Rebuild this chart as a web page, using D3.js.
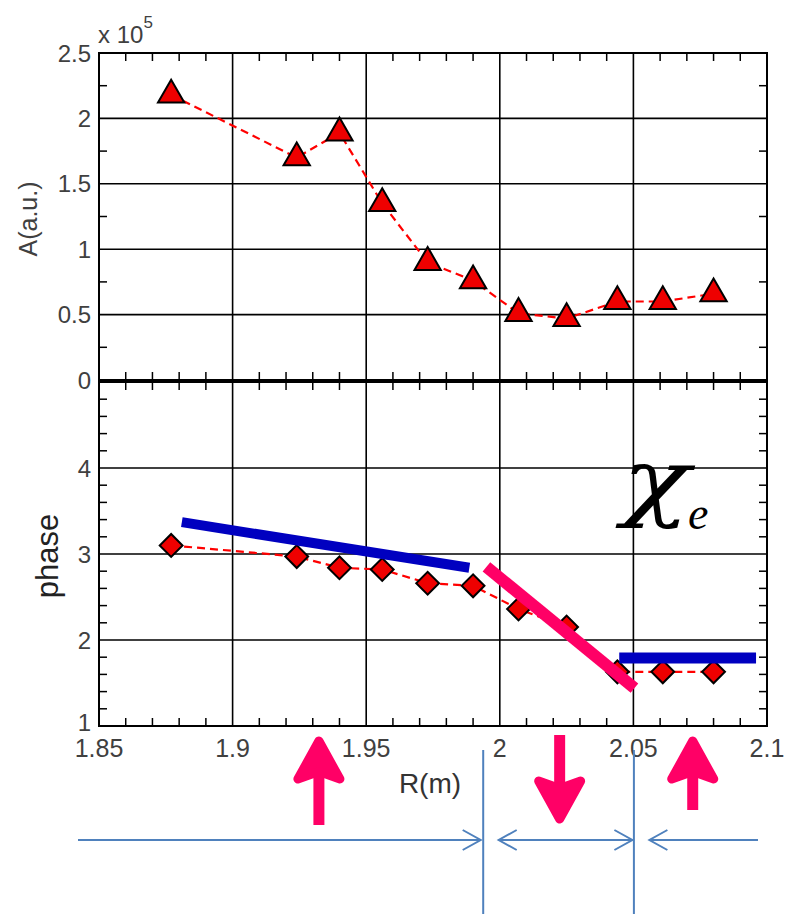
<!DOCTYPE html>
<html><head><meta charset="utf-8">
<script src="https://cdn.jsdelivr.net/npm/d3@7"></script>
<style>body{margin:0;background:#fff}svg{display:block}</style>
</head><body>
<svg id="c" width="786" height="914"></svg>
<script>
// ---- data ----
const R = [1.877, 1.924, 1.940, 1.956, 1.973, 1.990, 2.007, 2.025, 2.044, 2.061, 2.080];
const A = [2.18, 1.70, 1.89, 1.35, 0.90, 0.76, 0.51, 0.47, 0.60, 0.60, 0.66]; // x 1e5
const phase = [3.10, 2.97, 2.84, 2.82, 2.66, 2.63, 2.36, 2.15, 1.63, 1.63, 1.63];
const xTicks = [1.85, 1.9, 1.95, 2.0, 2.05, 2.1];
const xTickLabels = ["1.85", "1.9", "1.95", "2", "2.05", "2.1"];
const aTicks = [0, 0.5, 1, 1.5, 2, 2.5];
const aTickLabels = ["0", "0.5", "1", "1.5", "2", "2.5"];
const pTicks = [1, 2, 3, 4];
const pTickLabels = ["1", "2", "3", "4"];
// fitted trend segments [x1,y1,x2,y2]
const fitBlue1 = [1.881, 3.37, 1.9886, 2.84];
const fitPink = [1.995, 2.85, 2.0504, 1.44];
const fitBlue2 = [2.0447, 1.79, 2.0959, 1.79];
// annotation arrows (R positions)
const upArrows = [1.9323, 2.0722];
const downArrows = [2.0224];
const regionBounds = [1.9936, 2.0500];

const svg = d3.select("#c");
const x = d3.scaleLinear().domain([1.85, 2.1]).range([99, 767]);
const yA = d3.scaleLinear().domain([0, 2.5]).range([380, 53]);
const yP = d3.scaleLinear().domain([1, 5]).range([726, 382]);
const font = "Liberation Sans, Arial, sans-serif";
const txt = "#404040";

function panel(y, yTicks, yLabels, yMinor, labelSize, lowNudge) {
  const g = svg.append("g");
  const [y0, y1] = y.range();
  xTicks.slice(1, -1).forEach(t => g.append("line").attr("x1", x(t)).attr("x2", x(t)).attr("y1", y0).attr("y2", y1).attr("stroke", "#000").attr("stroke-width", 1.6));
  yTicks.forEach(t => { if (y(t) < y0 - 1 && y(t) > y1 + 1) g.append("line").attr("x1", 99).attr("x2", 767).attr("y1", y(t)).attr("y2", y(t)).attr("stroke", "#000").attr("stroke-width", 1.6); });
  const xm = d3.range(1.86, 2.1, 0.01).filter(v => Math.abs(v * 20 - Math.round(v * 20)) > 1e-6);
  xm.forEach(t => {
    g.append("line").attr("x1", x(t)).attr("x2", x(t)).attr("y1", y1).attr("y2", y1 + 8).attr("stroke", "#000").attr("stroke-width", 1.5);
    g.append("line").attr("x1", x(t)).attr("x2", x(t)).attr("y1", y0).attr("y2", y0 - 8).attr("stroke", "#000").attr("stroke-width", 1.5);
  });
  yMinor.forEach(t => {
    g.append("line").attr("x1", 99).attr("x2", 107).attr("y1", y(t)).attr("y2", y(t)).attr("stroke", "#000").attr("stroke-width", 1.5);
    g.append("line").attr("x1", 767).attr("x2", 759).attr("y1", y(t)).attr("y2", y(t)).attr("stroke", "#000").attr("stroke-width", 1.5);
  });
  g.append("rect").attr("x", 99).attr("y", y1).attr("width", 668).attr("height", y0 - y1).attr("fill", "none").attr("stroke", "#000").attr("stroke-width", 2);
  yTicks.forEach((t, i) => g.append("text").attr("x", 91).attr("y", y(t) - (i === 0 ? lowNudge : 0)).attr("dy", "0.36em").attr("text-anchor", "end")
    .attr("font-family", font).attr("font-size", labelSize).attr("fill", txt).text(yLabels[i]));
  return g;
}

panel(yA, aTicks, aTickLabels, d3.range(0.25, 2.5, 0.5), 24, 0);
panel(yP, pTicks, pTickLabels, d3.range(1.2, 5, 0.2).filter(v => Math.abs(v - Math.round(v)) > 1e-6), 24, 4);

// x tick labels
xTicks.forEach((t, i) => svg.append("text").attr("x", x(t)).attr("y", 757).attr("text-anchor", "middle")
  .attr("font-family", font).attr("font-size", 25).attr("fill", txt).text(xTickLabels[i]));

// axis titles
svg.append("text").attr("transform", "translate(37,219) rotate(-90)").attr("text-anchor", "middle")
  .attr("font-family", font).attr("font-size", 25).attr("fill", txt).text("A(a.u.)");
svg.append("text").attr("transform", "translate(58,556) rotate(-90)").attr("text-anchor", "middle")
  .attr("font-family", font).attr("font-size", 31).attr("fill", "#222").text("phase");
svg.append("text").attr("x", 430).attr("y", 793).attr("text-anchor", "middle")
  .attr("font-family", font).attr("font-size", 28).attr("fill", "#333").text("R(m)");
const mult = svg.append("text").attr("x", 98).attr("y", 43).attr("font-family", font).attr("font-size", 24).attr("fill", txt);
mult.append("tspan").text("x 10");
mult.append("tspan").attr("dy", -15).attr("font-size", 17).text("5");

// data lines
const lineA = d3.line().x((d, i) => x(R[i])).y(d => yA(d));
const lineP = d3.line().x((d, i) => x(R[i])).y(d => yP(d));
svg.append("path").attr("d", lineA(A)).attr("fill", "none").attr("stroke", "#f00").attr("stroke-width", 2.2).attr("stroke-dasharray", "8,5");
svg.append("path").attr("d", lineP(phase)).attr("fill", "none").attr("stroke", "#f00").attr("stroke-width", 2.2).attr("stroke-dasharray", "8,5");

function seg(s, color, w) {
  svg.append("line").attr("x1", x(s[0])).attr("y1", yP(s[1])).attr("x2", x(s[2])).attr("y2", yP(s[3])).attr("stroke", color).attr("stroke-width", w);
}

// markers
const tri = d3.symbol().type(d3.symbolTriangle).size(300);
A.forEach((v, i) => svg.append("path").attr("d", tri()).attr("transform", `translate(${x(R[i])},${yA(v)})`)
  .attr("fill", "#e00").attr("stroke", "#000").attr("stroke-width", 2));
const dia = d3.symbol().type(d3.symbolSquare).size(260);
phase.forEach((v, i) => svg.append("path").attr("d", dia()).attr("transform", `translate(${x(R[i])},${yP(v)}) rotate(45)`)
  .attr("fill", "#e00").attr("stroke", "#000").attr("stroke-width", 2));

seg(fitBlue1, "#0000c0", 10);
seg(fitPink, "#ff0066", 12);
seg(fitBlue2, "#0000c0", 11);

// chi_e
svg.append("text").attr("transform", "translate(622,510) scale(1.3,1)").attr("font-family", "DejaVu Serif, serif")
  .attr("font-style", "italic").attr("font-size", 86).text("χ");
svg.append("text").attr("x", 688).attr("y", 529).attr("font-family", "Liberation Serif, serif")
  .attr("font-style", "italic").attr("font-size", 46).text("e");

// magenta arrows
const mag = "#ff0066";
function bigArrow(cx, tipY, tailY) {
  const dir = tailY > tipY ? 1 : -1; // 1: pointing up
  const hl = 42 * dir, hw = 21;
  const g = svg.append("g");
  g.append("line").attr("x1", cx).attr("x2", cx).attr("y1", tailY).attr("y2", tipY + dir * 20).attr("stroke", mag).attr("stroke-width", 11);
  g.append("path").attr("d", `M${cx},${tipY + dir * 4} L${cx - hw},${tipY + hl} L${cx},${tipY + hl * 0.82} L${cx + hw},${tipY + hl} Z`)
    .attr("fill", mag).attr("stroke", mag).attr("stroke-width", 9).attr("stroke-linejoin", "round");
}
upArrows.forEach((r, i) => bigArrow(x(r), 737, i === 0 ? 825 : 810));
downArrows.forEach(r => bigArrow(x(r), 823, 735));

// thin blue region arrows
const blue = "#4f81bd";
regionBounds.forEach(r => svg.append("line").attr("x1", x(r) + 0.5).attr("x2", x(r) + 0.5).attr("y1", 750).attr("y2", 914).attr("stroke", blue).attr("stroke-width", 2));
function thinArrow(xa, xb, headA, headB) {
  svg.append("line").attr("x1", xa).attr("x2", xb).attr("y1", 840).attr("y2", 840).attr("stroke", blue).attr("stroke-width", 2);
  if (headA) svg.append("path").attr("d", `M${xa + 18},830 L${xa},840 L${xa + 18},850`).attr("fill", "none").attr("stroke", blue).attr("stroke-width", 2);
  if (headB) svg.append("path").attr("d", `M${xb - 18},830 L${xb},840 L${xb - 18},850`).attr("fill", "none").attr("stroke", blue).attr("stroke-width", 2);
}
thinArrow(78, x(regionBounds[0]) - 2, false, true);
thinArrow(x(regionBounds[0]) + 16, x(regionBounds[1]) - 1, true, true);
thinArrow(x(regionBounds[1]) + 16, 758, true, false);
</script>
</body></html>
